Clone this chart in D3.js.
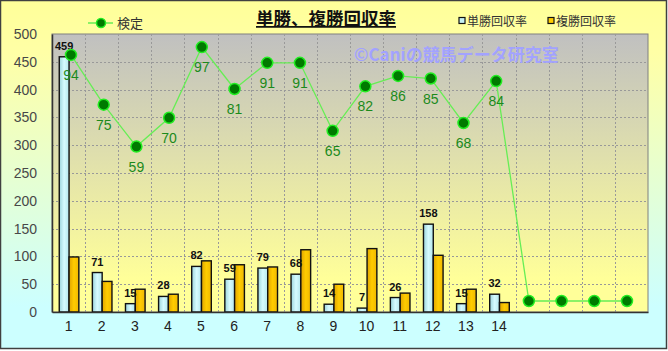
<!DOCTYPE html>
<html>
<head>
<meta charset="utf-8">
<script src="https://cdn.jsdelivr.net/npm/d3@7"></script>
<style>
  body { margin: 0; background: #fff; }
  text { font-family: "Liberation Sans", Arial, "Noto Sans CJK JP", sans-serif; }
  .jp { font-family: "Noto Sans CJK JP", sans-serif; }
</style>
</head>
<body>
<script>
// race numbers (1..18, only 1..14 have labels)
const races = d3.range(1, 19);
const raceLabels = ["1","2","3","4","5","6","7","8","9","10","11","12","13","14","","","",""];
// 単勝回収率
const winReturn = [459, 71, 15, 28, 82, 59, 79, 68, 14, 7, 26, 158, 15, 32];
// 複勝回収率
const placeReturn = [99, 55, 41, 32, 92, 85, 81, 112, 50, 114, 34, 102, 41, 17];
// 検定 (件数)
const counts = [94, 75, 59, 70, 97, 81, 91, 91, 65, 82, 86, 85, 68, 84, 0, 0, 0, 0];
const yTicks = [0, 50, 100, 150, 200, 250, 300, 350, 400, 450, 500];

const width = 668;
const height = 351;
const plot = { left: 52, top: 34, right: 648, bottom: 312 };

const svg = d3.select("body").append("svg")
    .attr("width", width)
    .attr("height", height);

const defs = svg.append("defs");

// outer background gradient
const bgGrad = defs.append("linearGradient")
    .attr("id", "bg").attr("x1", 0).attr("y1", 0).attr("x2", 0).attr("y2", 1);
bgGrad.append("stop").attr("offset", "0%").attr("stop-color", "#ffff99");
bgGrad.append("stop").attr("offset", "15%").attr("stop-color", "#ffffa6");
bgGrad.append("stop").attr("offset", "88%").attr("stop-color", "#ccffff");

// plot area gradient
const plotGrad = defs.append("linearGradient")
    .attr("id", "plotbg").attr("x1", 0).attr("y1", 0).attr("x2", 0).attr("y2", 1);
plotGrad.append("stop").attr("offset", "0%").attr("stop-color", "#c0c0c0");
plotGrad.append("stop").attr("offset", "88%").attr("stop-color", "#ffff99");

// bar gradients
const blueGrad = defs.append("linearGradient").attr("id", "blueBar");
blueGrad.append("stop").attr("offset", "0%").attr("stop-color", "#9cd4dc");
blueGrad.append("stop").attr("offset", "50%").attr("stop-color", "#d6fbff");
blueGrad.append("stop").attr("offset", "100%").attr("stop-color", "#b4e6ec");
const goldGrad = defs.append("linearGradient").attr("id", "goldBar");
goldGrad.append("stop").attr("offset", "0%").attr("stop-color", "#e0a400");
goldGrad.append("stop").attr("offset", "50%").attr("stop-color", "#ffcc00");
goldGrad.append("stop").attr("offset", "100%").attr("stop-color", "#f0b800");

svg.append("rect")
    .attr("x", 0.5).attr("y", 0.5)
    .attr("width", width - 2).attr("height", height - 3)
    .attr("fill", "url(#bg)")
    .attr("stroke", "#404040")
    .attr("stroke-width", 1.5);

// scales
const x0 = d3.scaleBand().domain(races).range([plot.left, plot.right]);
const x1 = d3.scaleBand().domain(["win", "place"]).range([0, 19.6]);
const xp = d3.scalePoint().domain(races).range([71, 627]);
const y = d3.scaleLinear().domain([0, 500]).range([plot.bottom, plot.top]);
const y2 = d3.scaleLinear().domain([-4.2, 102]).range([plot.bottom, plot.top]);

// plot background
svg.append("rect")
    .attr("x", plot.left).attr("y", plot.top)
    .attr("width", plot.right - plot.left)
    .attr("height", plot.bottom - plot.top)
    .attr("fill", "url(#plotbg)")
    .attr("stroke", "#808080");

// grid
const grid = svg.append("g").attr("stroke", "#999").attr("stroke-dasharray", "2,2");
grid.selectAll(".h").data(yTicks.slice(1, -1)).join("line")
    .attr("x1", plot.left).attr("x2", plot.right)
    .attr("y1", d => Math.round(y(d)) + 0.5).attr("y2", d => Math.round(y(d)) + 0.5);
grid.selectAll(".v").data(races.slice(1)).join("line")
    .attr("x1", d => Math.round(x0(d)) + 0.5).attr("x2", d => Math.round(x0(d)) + 0.5)
    .attr("y1", plot.top).attr("y2", plot.bottom);

// bars
const groupLeft = d => x0(d) + x0.bandwidth() / 2 - 9.3;
const barData = winReturn.map((v, i) => ({ race: races[i], win: v, place: placeReturn[i] }));

const bars = svg.append("g");
bars.selectAll(".win").data(barData).join("rect")
    .attr("x", d => groupLeft(d.race) + x1("win"))
    .attr("y", d => y(d.win))
    .attr("width", x1.bandwidth())
    .attr("height", d => y(0) - y(d.win))
    .attr("fill", "url(#blueBar)")
    .attr("stroke", "#111")
    .attr("stroke-width", 1.4);
bars.selectAll(".place").data(barData).join("rect")
    .attr("x", d => groupLeft(d.race) + x1("place"))
    .attr("y", d => y(d.place))
    .attr("width", x1.bandwidth())
    .attr("height", d => y(0) - y(d.place))
    .attr("fill", "url(#goldBar)")
    .attr("stroke", "#111")
    .attr("stroke-width", 1.4);

// bar labels
bars.selectAll(".lbl").data(barData).join("text")
    .attr("x", d => groupLeft(d.race) + x1("win") + x1.bandwidth() / 2)
    .attr("y", d => y(d.win) - 7)
    .attr("text-anchor", "middle")
    .attr("font-size", "11px")
    .attr("font-weight", "bold")
    .attr("fill", "#111")
    .text(d => d.win);

// axes
const yAxis = svg.append("g")
    .attr("transform", `translate(${plot.left},0)`)
    .call(d3.axisLeft(y).tickValues(yTicks).tickSize(0).tickPadding(15));
yAxis.select(".domain").attr("stroke", "#333").attr("stroke-width", 1.5);
yAxis.selectAll("text").attr("font-size", "14px").attr("fill", "#484848")
    .attr("font-family", "'Liberation Sans', Arial, sans-serif");

const xAxis = svg.append("g")
    .attr("transform", `translate(0,${plot.bottom})`)
    .call(d3.axisBottom(x0).tickFormat((d, i) => raceLabels[i]).tickSize(0).tickPadding(9));
xAxis.select(".domain").attr("stroke", "#333").attr("stroke-width", 1.5);
xAxis.selectAll("text").attr("font-size", "14px").attr("fill", "#222")
    .attr("font-family", "'Liberation Sans', Arial, sans-serif");

// watermark
svg.append("text")
    .attr("class", "jp")
    .attr("x", 354).attr("y", 61)
    .attr("font-size", "17px")
    .attr("font-weight", "bold")
    .attr("fill", "#a2a2ff")
    .text("©Caniの競馬データ研究室");

// line 検定
const lineData = counts.map((v, i) => ({ race: races[i], v: v }));
svg.append("path")
    .datum(lineData)
    .attr("fill", "none")
    .attr("stroke", "#66ee55")
    .attr("stroke-width", 1.3)
    .attr("d", d3.line().x(d => xp(d.race)).y(d => y2(d.v)));

svg.append("g").selectAll("circle").data(lineData).join("circle")
    .attr("cx", d => xp(d.race))
    .attr("cy", d => y2(d.v))
    .attr("r", 5.5)
    .attr("fill", "#007a00")
    .attr("stroke", "#22ee22")
    .attr("stroke-width", 1.5);

svg.append("g").selectAll("text").data(lineData.filter(d => d.v > 0)).join("text")
    .attr("x", d => xp(d.race))
    .attr("y", d => y2(d.v) + 25)
    .attr("text-anchor", "middle")
    .attr("font-size", "14px")
    .attr("fill", "#1b8a1b")
    .text(d => d.v);

// title
svg.append("text")
    .attr("class", "jp")
    .attr("x", 326).attr("y", 25)
    .attr("text-anchor", "middle")
    .attr("font-size", "17.5px")
    .attr("font-weight", "bold")
    .attr("fill", "#111")
    .attr("text-decoration", "underline")
    .text("単勝、複勝回収率");

// legend
const legend = svg.append("g");
legend.append("line")
    .attr("x1", 88).attr("x2", 113).attr("y1", 23).attr("y2", 23)
    .attr("stroke", "#66ee55").attr("stroke-width", 1.5);
legend.append("circle")
    .attr("cx", 101).attr("cy", 23).attr("r", 4.5)
    .attr("fill", "#007a00").attr("stroke", "#22ee22").attr("stroke-width", 1.5);
legend.append("text").attr("class", "jp")
    .attr("x", 117).attr("y", 28)
    .attr("font-size", "13px").attr("fill", "#333")
    .text("検定");

const legendItems = [
    { label: "単勝回収率", fill: "#c4f0f4", x: 459 },
    { label: "複勝回収率", fill: "#ffcc00", x: 548 }
];
const li = legend.selectAll(".li").data(legendItems).join("g")
    .attr("transform", d => `translate(${d.x},0)`);
li.append("rect")
    .attr("x", 0).attr("y", 17.5).attr("width", 6).attr("height", 6)
    .attr("fill", d => d.fill).attr("stroke", "#111").attr("stroke-width", 1.2);
li.append("text").attr("class", "jp")
    .attr("x", 8).attr("y", 25.5)
    .attr("font-size", "12px").attr("fill", "#333")
    .text(d => d.label);
</script>
</body>
</html>
